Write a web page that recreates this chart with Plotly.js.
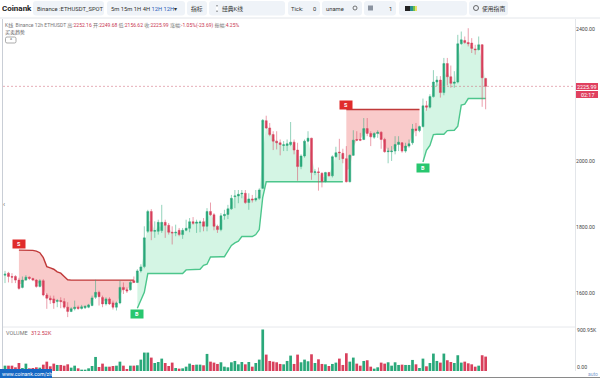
<!DOCTYPE html>
<html><head><meta charset="utf-8">
<script src="https://cdn.plot.ly/plotly-3.0.1.min.js"></script>
<style>html,body{margin:0;padding:0;background:#fff;overflow:hidden}#c{width:600px;height:378px}</style>
</head><body><div id="c"></div>
<script>
const open=[1654,1660,1650,1650,1639,1617,1639,1648,1644,1639,1620,1637,1594,1584,1582,1574,1577,1574,1557,1544,1552,1557,1553,1555,1557,1562,1587,1602,1586,1567,1582,1570,1557,1570,1617,1610,1610,1637,1632,1667,1680,1787,1847,1787,1787,1789,1814,1805,1784,1782,1790,1777,1790,1796,1816,1811,1812,1816,1802,1847,1837,1802,1792,1834,1838,1855,1892,1894,1900,1902,1874,1885,1882,1887,1917,2122,2100,2080,2060,2055,2047,2047,2050,2057,2033,1983,2015,2060,2069,1965,1967,1963,1938,1965,1955,2013,2027,2023,2007,1937,2017,2065,2065,2065,2098,2083,2072,2083,2087,2065,2028,2028,2030,2050,2055,2030,2045,2055,2097,2092,2104,2167,2163,2195,2239,2245,2207,2295,2255,2235,2239,2355,2365,2359,2357,2339,2337,2352,2249.68];
const high=[1667,1664,1660,1654,1646,1650,1654,1650,1646,1642,1642,1642,1600,1592,1592,1582,1587,1584,1572,1557,1577,1562,1564,1562,1567,1592,1640,1607,1592,1587,1587,1577,1574,1637,1632,1617,1637,1650,1672,1687,1802,1852,1854,1817,1822,1867,1822,1812,1802,1807,1797,1797,1822,1827,1830,1822,1820,1827,1857,1874,1842,1807,1842,1852,1867,1897,1912,1912,1912,1912,1902,1897,1912,1917,2127,2137,2115,2090,2090,2065,2060,2065,2118,2065,2055,2020,2065,2090,2070,1975,1980,1965,1967,1967,2017,2043,2067,2037,2045,2020,2093,2090,2085,2130,2130,2090,2087,2093,2090,2070,2040,2045,2075,2075,2057,2055,2065,2112,2115,2107,2189,2182,2202,2275,2257,2257,2312,2312,2289,2272,2382,2392,2377,2402,2372,2352,2377,2354,2252.16];
const low=[1630,1632,1630,1630,1610,1614,1637,1639,1636,1616,1617,1590,1552,1567,1552,1557,1554,1552,1527,1542,1547,1549,1550,1552,1554,1560,1582,1562,1557,1562,1564,1550,1547,1566,1597,1600,1607,1630,1630,1662,1675,1782,1760,1767,1777,1782,1767,1777,1747,1772,1772,1764,1787,1784,1807,1782,1784,1787,1787,1834,1790,1782,1787,1822,1824,1852,1857,1872,1887,1870,1852,1874,1877,1882,1915,2097,2075,2033,2035,2017,2030,2030,2045,2020,1940,1975,2010,2057,1943,1957,1910,1920,1935,1953,1950,2010,2003,1993,1935,1935,2015,2060,2060,2063,2075,2045,2067,2070,2037,2025,1993,2000,2020,2030,2025,2025,2040,2049,2075,2087,2102,2152,2159,2192,2227,2192,2199,2229,2222,2222,2235,2352,2355,2347,2327,2322,2335,2164,2156.62];
const close=[1657,1650,1648,1639,1614,1639,1648,1644,1639,1620,1637,1594,1584,1579,1570,1577,1574,1557,1544,1552,1557,1553,1558,1560,1564,1585,1602,1589,1567,1582,1567,1557,1570,1617,1610,1606,1632,1632,1667,1679,1767,1847,1787,1789,1814,1814,1805,1784,1782,1784,1777,1790,1796,1816,1811,1815,1815,1802,1847,1837,1802,1792,1834,1838,1855,1887,1894,1899,1902,1874,1885,1882,1887,1912,2123,2100,2080,2060,2055,2050,2049,2052,2057,2033,1983,2015,2060,2069,1965,1967,1965,1938,1965,1955,2013,2025,2025,2007,1937,2017,2063,2063,2063,2098,2083,2073,2083,2087,2065,2028,2030,2030,2050,2057,2030,2045,2052,2097,2092,2104,2167,2163,2195,2239,2245,2207,2295,2255,2235,2239,2355,2367,2359,2355,2341,2337,2352,2252,2225.99];
const volumeK=[116,116,116,80,174,65,160,58,65,80,73,138,203,102,160,131,131,116,145,73,116,58,29,29,58,109,305,87,160,94,94,109,116,203,116,44,116,116,124,247,400,400,291,174,196,269,174,109,182,65,51,58,94,160,131,138,138,124,371,203,182,153,189,94,80,189,218,145,196,145,196,94,174,247,900.95,356,218,203,189,153,145,218,334,153,356,189,247,211,363,174,254,153,145,109,153,182,269,131,385,203,291,160,116,218,233,94,51,80,182,160,189,116,189,131,138,131,131,240,145,65,269,102,174,378,218,182,378,233,196,174,342,182,203,167,145,94,116,342,312.52];
const sellTrendA=[1730,1730,1730,1730,1729,1727,1722,1707,1680,1676,1672,1664,1660,1650,1640,1639,1639,1639,1639,1639,1639,1639,1639,1639,1639,1639,1639,1639,1639,1639,1639,1639,1639,1639];
const buyTrendA=[1554,1580,1602,1659,1659,1659,1659,1659,1659,1659,1659,1659,1659,1659,1670,1670,1670,1671,1672,1684,1687,1709,1710,1710,1710,1710,1727,1744,1752,1757,1771,1771,1771,1771,1777,1792,1890,1937,1937,1937,1937,1937,1937,1937,1937,1937,1937,1937,1937,1937,1937,1937,1937,1937,1937,1937,1937,1937,1937,1937];
const sellTrendB=[2156,2156,2156,2156,2156,2156,2156,2156,2156,2156,2156,2156,2156,2156,2156,2156,2156,2156,2156,2156,2156,2156];
const buyTrendB=[1997,2032,2047,2080,2081,2081,2081,2092,2093,2093,2105,2169,2172,2189,2189,2189,2189,2189,2189];
const startA=4,startB=38,startC=98,startD=120;
const priceTicks=[1600,1800,2000,2400];
const lastPrice=2225.99;

const UP='#2aa87a',DOWN='#d8405c',UPW='rgba(42,168,122,.5)',DOWNW='rgba(216,64,92,.5)';
const xs=open.map((_,i)=>i);
const mid=xs.map(i=>(open[i]+close[i])/2);
const PX_L=3,PX_R=575,PX_T=19,PX_B=371,PX_DIV=327;
const fx=p=>(p-PX_L)/(PX_R-PX_L), fy=p=>(PX_B-p)/(PX_B-PX_T);
const xStep=3.483,x0=5;
const xRange=[(PX_L-x0)/xStep,(PX_R-x0)/xStep];
const yRange=[1497,2430];

function band(trend,start,line,fill){
  const x=trend.map((_,k)=>start+k);
  return [
    {type:'scatter',mode:'lines',x,y:x.map(i=>mid[i]),line:{width:0},hoverinfo:'skip',showlegend:false,xaxis:'x',yaxis:'y'},
    {type:'scatter',mode:'lines',x,y:trend,line:{color:line,width:1.4},fill:'tonexty',fillcolor:fill,hoverinfo:'skip',showlegend:false,xaxis:'x',yaxis:'y'}
  ];
}
const RF='rgba(235,80,80,.3)',GF='rgba(60,210,130,.22)',RL='#c03a3a',GL='#4cc68c';
const traces=[
 ...band(sellTrendA,startA,RL,RF),...band(buyTrendA,startB,GL,GF),
 ...band(sellTrendB,startC,RL,RF),...band(buyTrendB,startD,GL,GF),
 {type:'candlestick',x:xs,open,high,low,close,xaxis:'x',yaxis:'y3',whiskerwidth:0,showlegend:false,
  increasing:{line:{color:UPW,width:1},fillcolor:UP},decreasing:{line:{color:DOWNW,width:1},fillcolor:DOWN}},
 {type:'bar',x:xs,y:volumeK,xaxis:'x',yaxis:'y2',showlegend:false,marker:{color:xs.map(i=>close[i]>=open[i]?UP:DOWN),line:{width:0}}}
];

const FONT='Roboto,"Noto Sans CJK SC",sans-serif';
function rr(x1,y1,x2,y2,r){const a=fx(x1),b=fx(x2),c=fy(y1),d=fy(y2),rx=r/(PX_R-PX_L),ry=r/(PX_B-PX_T);
 return `M${a+rx},${c} L${b-rx},${c} Q${b},${c} ${b},${c-ry} L${b},${d+ry} Q${b},${d} ${b-rx},${d} L${a+rx},${d} Q${a},${d} ${a},${d+ry} L${a},${c-ry} Q${a},${c} ${a+rx},${c} Z`;}
const shapes=[],ann=[];
const P='paper';
function pill(a,b,y1=1,y2=15.5,c='#eff3f8'){shapes.push({type:'path',path:rr(a,y1,b,y2,3),xref:P,yref:P,fillcolor:c,line:{width:0},layer:'below'});}
function rect(a,t,b,d,c){shapes.push({type:'rect',xref:P,yref:P,x0:fx(a),x1:fx(b),y0:fy(t),y1:fy(d),fillcolor:c,line:{width:0}});}
function hline(a,b,y,c,w=1){shapes.push({type:'line',xref:P,yref:P,x0:fx(a),x1:fx(b),y0:fy(y),y1:fy(y),line:{color:c,width:w}});}
function vline(x,a,b,c,w=1){shapes.push({type:'line',xref:P,yref:P,x0:fx(x),x1:fx(x),y0:fy(a),y1:fy(b),line:{color:c,width:w}});}
function txt(x,y,t,size,color='#333',anchor='left',extra={}){ann.push(Object.assign({xref:P,yref:P,x:fx(x),y:fy(y),text:t,showarrow:false,xanchor:anchor,yanchor:'middle',font:{size,color,family:FONT},borderpad:0,borderwidth:0},extra));}
function circ(x,y,r,c){shapes.push({type:'circle',xref:P,yref:P,x0:fx(x-r),x1:fx(x+r),y0:fy(y+r),y1:fy(y-r),line:{color:c,width:.8}});}

[[33,104],[107,185],[187,207],[209,285],[288,320],[322,362],[364,396],[399,467],[469,508]].forEach(p=>pill(p[0],p[1]));
hline(0,600,18,'#e3e6ea',1);
vline(2.5,19,377,'#c9ced6',1);
vline(575.5,19,371,'#e3e6ea',1);
hline(3,575,327,'#e6e8ec',1);
hline(0,600,377.5,'#8a8a8a',1);

txt(2,8,'<b>Coinank</b>',8,'#222');
txt(37,8.5,'Binance :ETHUSDT_SPOT',5.8,'#333');
txt(111,8.5,'5m 15m 1H 4H <span style="color:#2b5fb8">12H 12H</span>▾',5.8,'#333');
txt(191,8.5,'指标',5.8,'#333');
txt(222,8.5,'经典K线',5.8,'#333');
vline(217,5,12,'#444',.8);rect(216,6.5,218,10.5,'#fff');
txt(291,8.5,'Tick:',5.8,'#333');txt(313,8.5,'0',5.8,'#333');
txt(326,8.5,'uname',5.8,'#333');circ(355,8,2,'#555');
rect(368,5.5,373,10.5,'#8b93a0');txt(389,8.5,'1',5.8,'#333');
rect(405,6,410,11,'#222');rect(410,6,413,11,'#2a8f8f');rect(413,6,415,11,'#6cc24a');rect(415,6,417,11,'#eadf6a');
circ(476,8,2.5,'#444');txt(482,8.5,'使用指南',5.8,'#333');

txt(5,25,'K线  Binance 12h ETHUSDT 高:<span style="color:#c8354f">2252.16</span> 开:<span style="color:#c8354f">2249.68</span> 低:<span style="color:#c8354f">2156.62</span> 收:<span style="color:#c8354f">2225.99</span> 涨幅:<span style="color:#c8354f">-1.05%(-23.69)</span> 振幅:<span style="color:#c8354f">4.25%</span>',5,'#777');
txt(5,32.5,'买卖趋势',5,'#555');
shapes.push({type:'path',path:rr(5.5,37,16,43,1.5),xref:P,yref:P,fillcolor:'#fff',line:{color:'#888',width:.7}});
txt(10.7,40,'^',5,'#555','center');
txt(3,205,'‹',7,'#666');
txt(6,333,'VOLUME',5.5,'#777');txt(31,333,'312.52K',5.5,'#c8354f');
rect(0,369,52,378,'#1668c4');txt(1.5,373.5,'www.coinank.com/zh',5.2,'#fff','left');
txt(598,374,'auto',5,'#7f9fd0','right');

// last price line and axis tags
shapes.push({type:'line',xref:'x',yref:'y',x0:xRange[0],x1:xRange[1],y0:lastPrice,y1:lastPrice,line:{color:'rgba(205,90,110,.7)',width:.7,dash:'2px,2px'}});
rect(576,83,598,90,'#e0405f');rect(576,91,598,98,'#e0405f');
txt(587,86.6,lastPrice.toFixed(2),5.4,'#fff','center');
txt(587,94.6,'02:17',5.4,'#fff','center');
txt(577,330,'900.95K',5.2,'#444');txt(577,366.5,'0.00',5.2,'#444');

// S / B markers
function mark(i,p,t,c){ann.push({xref:'x',yref:'y3',x:i,y:p,text:'<b>'+t+'</b>',showarrow:false,bgcolor:c,font:{size:5.5,color:'#fff',family:FONT},width:12,height:7.5,borderpad:0,xanchor:'center',yanchor:'middle'});}
mark(4,1747,'S','#e02b2b');mark(38,1535,'B','#28c76f');mark(98,2168,'S','#e02b2b');mark(120,1979,'B','#28c76f');

const layout={width:600,height:378,margin:{l:3,r:25,t:19,b:7,pad:0},paper_bgcolor:'#fff',plot_bgcolor:'#fff',showlegend:false,dragmode:false,
 font:{family:FONT},bargap:.22,boxgap:.22,
 xaxis:{range:xRange,domain:[0,1],showgrid:false,zeroline:false,showticklabels:false,ticks:'',showline:false,rangeslider:{visible:false},fixedrange:true,type:'linear'},
 yaxis:{domain:[fy(PX_DIV),1],range:yRange,side:'right',showgrid:false,zeroline:false,tickvals:priceTicks,ticktext:priceTicks.map(v=>v.toFixed(2)),ticks:'',tickfont:{size:5.2,color:'#444'},showline:false,fixedrange:true,anchor:'x'},
 yaxis2:{domain:[0,fy(PX_DIV)],range:[0,955],side:'right',showgrid:false,zeroline:false,showticklabels:false,ticks:'',showline:false,fixedrange:true,anchor:'x'},
 yaxis3:{overlaying:'y',range:yRange,side:'right',showgrid:false,zeroline:false,showticklabels:false,ticks:'',showline:false,fixedrange:true,anchor:'x'},
 shapes,annotations:ann};
Plotly.newPlot('c',traces,layout,{displayModeBar:false,staticPlot:true});
</script></body></html>
